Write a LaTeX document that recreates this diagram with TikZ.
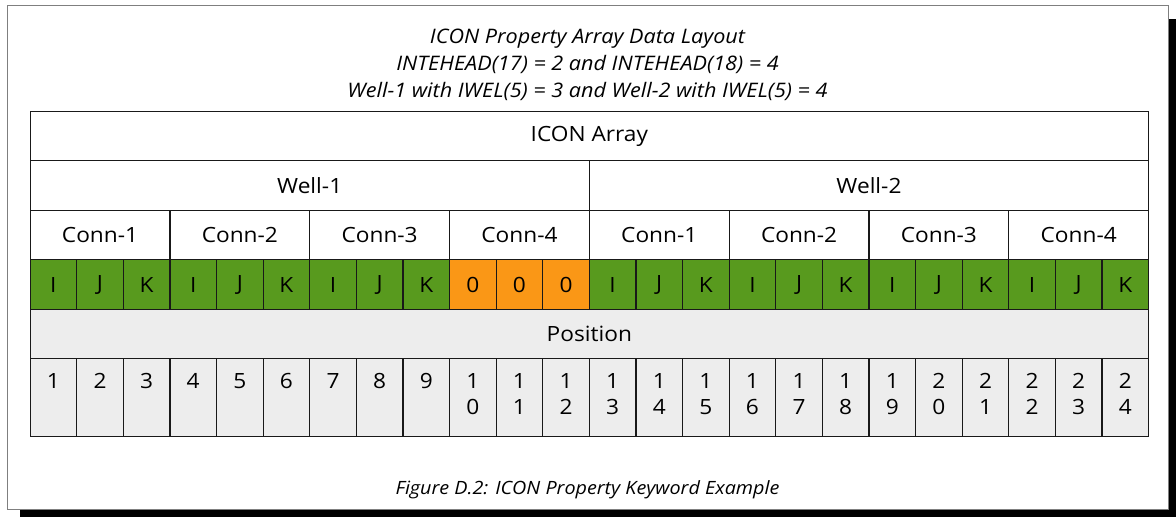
\documentclass[tikz,border=0pt]{standalone}
\usepackage{fontspec}
\setmainfont{Open Sans}[FakeStretch=1.08]
\definecolor{grn}{HTML}{589A1E}
\definecolor{org}{HTML}{FA9716}
\definecolor{posgray}{HTML}{EDEDED}
\definecolor{framegray}{HTML}{7F7F7F}
\begin{document}
\begin{tikzpicture}[x=1pt,y=-1pt,
  cell/.style={draw=black!90,line width=1.2pt,inner sep=0pt,anchor=north west,font=\fontsize{21}{24}\selectfont},
  numtxt/.style={inner sep=0pt,anchor=north,align=center,font=\fontsize{21}{26.5}\selectfont},
  ttl/.style={inner sep=0pt,align=center,font=\fontsize{20}{27}\selectfont\itshape}]
\useasboundingbox (0,0) rectangle (1176,517);
\fill[black] (20,19) rectangle (1176,517);
\node[draw=framegray,line width=1.3pt,fill=white,anchor=north west,minimum width=1161pt,minimum height=504pt,inner sep=0pt] (frame) at (7,5) {};
\node[ttl,anchor=north] (title) at (587.5,29) {ICON Property Array Data Layout\\INTEHEAD(17) = 2 and INTEHEAD(18) = 4\\Well-1 with IWEL(5) = 3 and Well-2 with IWEL(5) = 4};
\node[cell,fill=white,minimum width=1118.5pt,minimum height=49pt] (icon) at (29.5,111) {ICON Array};
\node[cell,fill=white,minimum width=559.25pt,minimum height=50pt] (w1) at (29.5,160) {Well-1};
\node[cell,fill=white,minimum width=559.25pt,minimum height=50pt] (w2) at (588.75,160) {Well-2};
\foreach \i/\t in {0/1,1/2,2/3,3/4,4/1,5/2,6/3,7/4}{
  \node[cell,fill=white,minimum width=139.8125pt,minimum height=49pt] (c\i) at ({29.5+\i*139.8125},210) {Conn-\t};
}
\foreach \i/\t/\c in {0/I/grn,1/J/grn,2/K/grn,3/I/grn,4/J/grn,5/K/grn,6/I/grn,7/J/grn,8/K/grn,9/0/org,10/0/org,11/0/org,12/I/grn,13/J/grn,14/K/grn,15/I/grn,16/J/grn,17/K/grn,18/I/grn,19/J/grn,20/K/grn,21/I/grn,22/J/grn,23/K/grn}{
  \node[cell,fill=\c,minimum width=46.604pt,minimum height=50pt] (g\i) at ({29.5+\i*46.604},259) {\t};
}
\node[cell,fill=posgray,minimum width=1118.5pt,minimum height=49pt] (pos) at (29.5,309) {Position};
\foreach \i/\t in {0/1,1/2,2/3,3/4,4/5,5/6,6/7,7/8,8/9,9/{1\\0},10/{1\\1},11/{1\\2},12/{1\\3},13/{1\\4},14/{1\\5},15/{1\\6},16/{1\\7},17/{1\\8},18/{1\\9},19/{2\\0},20/{2\\1},21/{2\\2},22/{2\\3},23/{2\\4}}{
  \node[cell,fill=posgray,minimum width=46.604pt,minimum height=78pt] (n\i) at ({29.5+\i*46.604},358) {};
  \node[numtxt] (nt\i) at ([yshift=-15pt]n\i.north) {\t};
}
\node[inner sep=0pt,anchor=base,font=\fontsize{18.3}{22}\selectfont\itshape] (caption) at (587.5,494) {Figure D.2: ICON Property Keyword Example};
\end{tikzpicture}
\end{document}
